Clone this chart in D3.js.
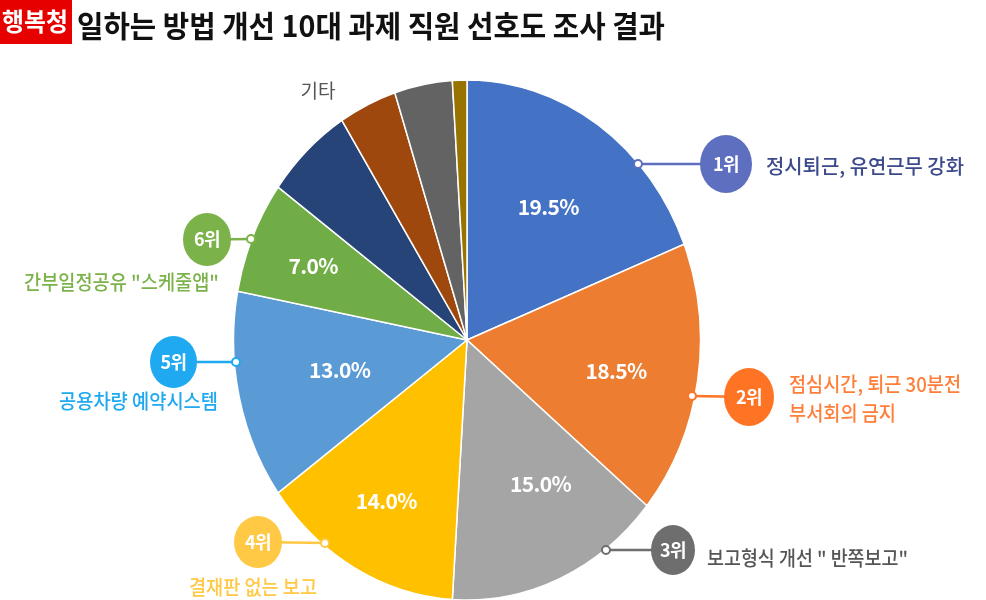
<!DOCTYPE html>
<html><head><meta charset="utf-8">
<script src="https://cdn.jsdelivr.net/npm/d3@7"></script>
<style>html,body{margin:0;padding:0;background:#fff}svg{display:block;filter:blur(0.35px)}text{font-family:"Noto Sans CJK KR","Noto Sans",sans-serif}</style>
</head><body><svg id="c" width="986" height="600"></svg>
<script>
const categories=["정시퇴근, 유연근무 강화","점심시간, 퇴근 30분전 부서회의 금지","보고형식 개선 \" 반쪽보고\"","결재판 없는 보고","공용차량 예약시스템","간부일정공유 \"스케줄앱\"","기타1","기타2","기타3","기타4"];
const values=[19,17,15,14,13,7,6,4,4,1];
const percentLabels=["19.5%","18.5%","15.0%","14.0%","13.0%","7.0%","","","",""];
const colors=["#4472c4","#ed7d31","#a5a5a5","#ffc000","#5b9bd5","#70ad47","#264478","#9e480e","#636363","#997300"];
const rankLabels=["1위","2위","3위","4위","5위","6위"];
const rankColors=["#5f6fbf","#ff7324","#6e6e6e","#ffc845","#1ea9f0","#7cb24a"];
const textColors=["#3c4a8c","#ff7f3a","#555555","#ffc845","#1ea9f0","#7cb24a"];
const titleText="일하는 방법 개선 10대 과제 직원 선호도 조사 결과";
const tagText="행복청";
const otherText="기타";
// label nudges from the slice centroid
const nudges=[[0,0],[6,6],[16,-4],[-11,20],[14,-5],[-21,-10],[0,0],[0,0],[0,0],[0,0]];
// callout layout: dot, badge, badge radii, text lines (x, y, fitted width)
const callouts=[
 {d:[638,164],b:[726,164],r:[26,29],t:[[766,174,"정시퇴근, 유연근무 강화",198]]},
 {d:[692,396],b:[749,397],r:[25,29],t:[[789,392,"점심시간, 퇴근 30분전",172],[789,421,"부서회의 금지",107]]},
 {d:[606,550],b:[673,550],r:[22,25],t:[[707,566,"보고형식 개선 \" 반쪽보고\"",201]]},
 {d:[325,543],b:[258,542],r:[24,26],t:[[189,595,"결재판 없는 보고",128]]},
 {d:[236,362],b:[173.5,362],r:[23.5,26],t:[[59,409,"공용차량 예약시스템",159]]},
 {d:[251,239],b:[207,239.5],r:[24,26.5],t:[[24,290,"간부일정공유 \"스케줄앱\"",195]]}
];
const cx=467,cy=340,rx=233.5,ry=260;
const svg=d3.select("#c");
svg.append("rect").attr("x",0).attr("y",0).attr("width",72).attr("height",44).attr("fill","#e60000");
svg.append("text").attr("x",2).attr("y",31).attr("fill","#fff").attr("font-size",25).attr("font-weight",700).attr("textLength",66).attr("lengthAdjust","spacingAndGlyphs").text(tagText);
svg.append("text").attr("x",77).attr("y",37).attr("fill","#111").attr("font-size",30).attr("font-weight",700).attr("textLength",588).attr("lengthAdjust","spacingAndGlyphs").text(titleText);

const pie=d3.pie().sort(null).value(d=>d)(values);
const arc=d3.arc().innerRadius(0).outerRadius(ry);
const g=svg.append("g").attr("transform",`translate(${cx},${cy}) scale(${rx/ry},1)`);
g.selectAll("path").data(pie).join("path").attr("d",arc).attr("fill",(d,i)=>colors[i])
 .attr("stroke","#fff").attr("stroke-width",1.5).attr("vector-effect","non-scaling-stroke");
const lab=d3.arc().innerRadius(ry*0.62).outerRadius(ry*0.62);
svg.selectAll("text.p").data(pie).join("text").attr("class","p")
 .attr("x",(d,i)=>cx+lab.centroid(d)[0]*rx/ry+nudges[i][0]).attr("y",(d,i)=>cy+lab.centroid(d)[1]+8+nudges[i][1])
 .attr("text-anchor","middle").attr("fill","#fff").attr("font-size",21).attr("font-weight",700).attr("letter-spacing",-0.6)
 .text((d,i)=>percentLabels[i]);

callouts.forEach((c,i)=>{
 svg.append("line").attr("x1",c.d[0]).attr("y1",c.d[1]).attr("x2",c.b[0]).attr("y2",c.b[1]).attr("stroke",rankColors[i]).attr("stroke-width",2.5);
 svg.append("circle").attr("cx",c.d[0]).attr("cy",c.d[1]).attr("r",4).attr("fill","#fff").attr("stroke",rankColors[i]).attr("stroke-width",2);
 svg.append("ellipse").attr("cx",c.b[0]).attr("cy",c.b[1]).attr("rx",c.r[0]).attr("ry",c.r[1]).attr("fill",rankColors[i]);
 svg.append("text").attr("x",c.b[0]).attr("y",c.b[1]+6.5).attr("text-anchor","middle").attr("fill","#fff").attr("font-size",18).attr("font-weight",700).attr("letter-spacing",-0.6).text(rankLabels[i]);
 c.t.forEach(t=>svg.append("text").attr("x",t[0]).attr("y",t[1]).attr("fill",textColors[i]).attr("font-size",20).attr("font-weight",500).attr("textLength",t[3]).attr("lengthAdjust","spacingAndGlyphs").text(t[2]));
});
svg.append("text").attr("x",318).attr("y",98).attr("text-anchor","middle").attr("fill","#555").attr("font-size",19).text(otherText);
</script></body></html>
